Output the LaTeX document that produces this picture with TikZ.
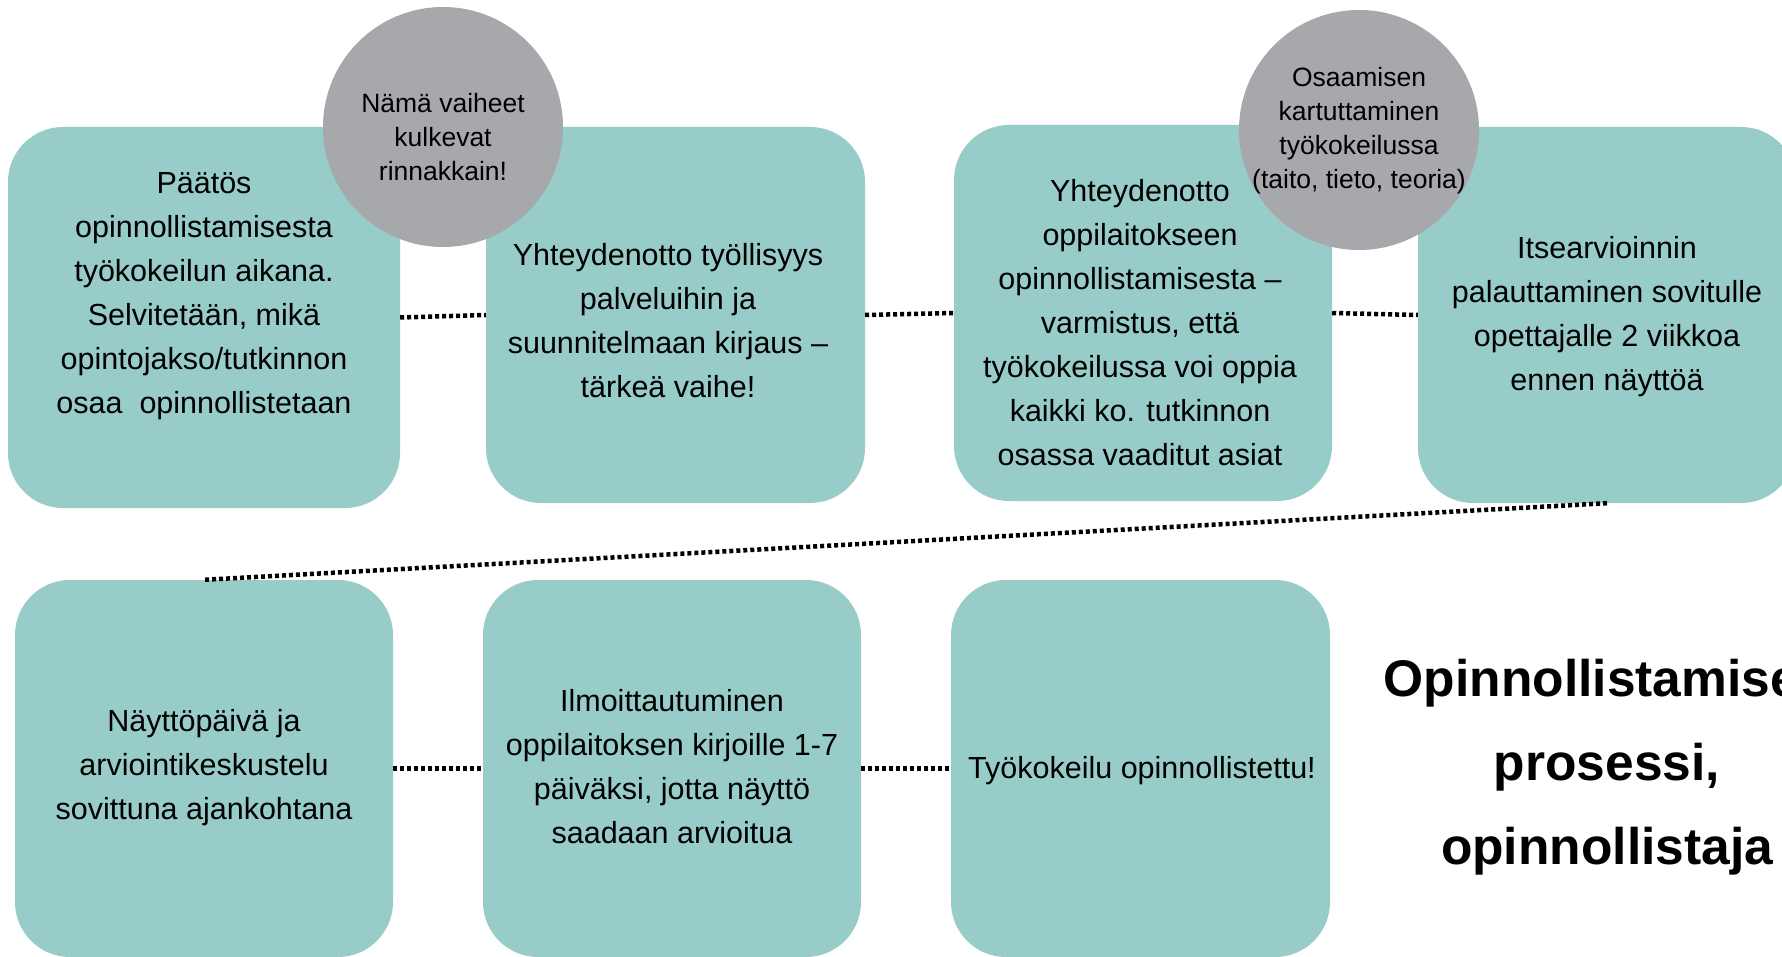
\documentclass[tikz,border=0pt]{standalone}
\usepackage{fontspec}
\setmainfont{Liberation Sans}
\definecolor{tealbox}{HTML}{97CCC8}
\definecolor{graycirc}{HTML}{A7A8AB}
\begin{document}
\begin{tikzpicture}[x=1pt,y=-1pt,
  stepbox/.style={fill=tealbox, draw=none, rounded corners=55pt, inner sep=0pt},
  bubble/.style={circle, fill=graycirc, draw=none, minimum size=240pt, inner sep=0pt},
  boxtext/.style={inner sep=0pt, align=center, font=\fontsize{30.5}{44}\selectfont},
  bubtext/.style={inner sep=0pt, align=center, font=\fontsize{26.5}{34}\selectfont},
  titletext/.style={inner sep=0pt, align=center, font=\fontsize{51.5}{84}\selectfont\bfseries},
  dotconn/.style={line width=4.5pt, dash pattern=on 4pt off 3pt}]
\useasboundingbox (0,0) rectangle (1782,957);
\clip (0,0) rectangle (1782,957);
\fill[white] (0,0) rectangle (1782,957);
% boxes
\node[stepbox, minimum width=392pt, minimum height=381pt] (b1) at (204,317.5) {};
\node[stepbox, minimum width=379pt, minimum height=376pt] (b2) at (675.5,315) {};
\node[stepbox, minimum width=378pt, minimum height=376pt] (b3) at (1143,313) {};
\node[stepbox, minimum width=378pt, minimum height=376pt] (b4) at (1607,315) {};
\node[stepbox, minimum width=378pt, minimum height=377pt] (b5) at (204,768.5) {};
\node[stepbox, minimum width=378pt, minimum height=377pt] (b6) at (672,768.5) {};
\node[stepbox, minimum width=379pt, minimum height=377pt] (b7) at (1140.5,768.5) {};
% connectors
\draw[dotconn] (b1.east) -- (b2.west);
\draw[dotconn] (b2.east) -- (b3.west);
\draw[dotconn] (b3.east) -- (b4.west);
\draw[dotconn] (b4.south) -- (b5.north);
\draw[dotconn] (b5.east) -- (b6.west);
\draw[dotconn] (b6.east) -- (b7.west);
% bubbles
\node[bubble] (c1) at (443,127) {};
\node[bubble] (c2) at (1359,130) {};
% texts
\node[boxtext] (t1) at (204,296.5) {Päätös\\opinnollistamisesta\\työkokeilun aikana.\\Selvitetään, mikä\\opintojakso/tutkinnon\\osaa\ \ opinnollistetaan};
\node[boxtext] (t2) at (668,321) {Yhteydenotto työllisyys\\palveluihin ja\\suunnitelmaan kirjaus –\\tärkeä vaihe!};
\node[boxtext] (t3) at (1140,323) {Yhteydenotto\\oppilaitokseen\\opinnollistamisesta –\\varmistus, että\\työkokeilussa voi oppia\\kaikki ko. tutkinnon\\osassa vaaditut asiat};
\node[boxtext] (t4) at (1607,317) {Itsearvioinnin\\palauttaminen sovitulle\\opettajalle 2 viikkoa\\ennen näyttöä};
\node[boxtext] (t5) at (204,768) {Näyttöpäivä ja\\arviointikeskustelu\\sovittuna ajankohtana};
\node[boxtext] (t6) at (672,767) {Ilmoittautuminen\\oppilaitoksen kirjoille 1-7\\päiväksi, jotta näyttö\\saadaan arvioitua};
\node[boxtext] (t7) at (1142,771) {Työkokeilu opinnollistettu!};
\node[bubtext] (ct1) at (443,137) {Nämä vaiheet\\kulkevat\\rinnakkain!};
\node[bubtext] (ct2) at (1359,131) {Osaamisen\\kartuttaminen\\työkokeilussa\\(taito, tieto, teoria)};
\node[titletext] (title) at (1607,767) {Opinnollistamisen\\prosessi,\\opinnollistaja};
\end{tikzpicture}
\end{document}
